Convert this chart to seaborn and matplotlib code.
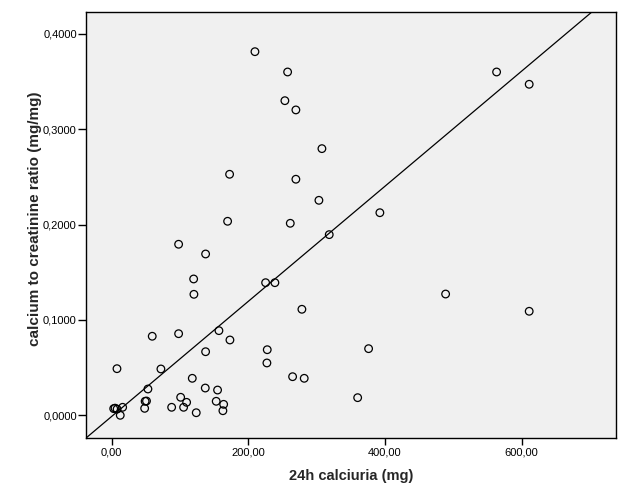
import matplotlib
matplotlib.use("Agg")
import matplotlib.pyplot as plt
import seaborn as sns
import pandas as pd
from matplotlib.ticker import FuncFormatter

calciuria = [209.7, 257.5, 253.5, 269.6, 307.7, 172.6, 269.6, 303.3, 169.7, 261.4,
             563.3, 611.0, 392.5, 318.4, 98.0, 137.5, 120.0, 120.4, 225.3, 238.9,
             278.4, 59.4, 98.0, 157.0, 173.1, 137.5, 227.7, 227.2, 7.8, 72.1,
             264.8, 281.8, 118.0, 53.1, 137.0, 155.0, 360.0, 101.0, 49.0, 51.0,
             109.7, 153.0, 163.9, 48.3, 87.8, 105.3, 123.8, 162.8, 16.1, 3.0,
             5.0, 8.0, 12.6, 488.7, 611.0, 376.0]
ratio = [0.3814, 0.3601, 0.3300, 0.3203, 0.2797, 0.2528, 0.2476, 0.2255, 0.2035, 0.2014,
         0.3601, 0.3472, 0.2125, 0.1895, 0.1794, 0.1692, 0.1430, 0.1269, 0.1391, 0.1391,
         0.1112, 0.0829, 0.0856, 0.0888, 0.0790, 0.0667, 0.0688, 0.0549, 0.0489, 0.0486,
         0.0405, 0.0388, 0.0388, 0.0276, 0.0286, 0.0265, 0.0185, 0.0189, 0.0147, 0.0150,
         0.0136, 0.0147, 0.0115, 0.0073, 0.0084, 0.0084, 0.0027, 0.0048, 0.0084, 0.0070,
         0.0075, 0.0065, 0.0000, 0.1272, 0.1091, 0.0699]

fit_intercept = -0.0012
fit_slope = 0.0006037

x_ticks = [0, 200, 400, 600]
y_ticks = [0.0, 0.1, 0.2, 0.3, 0.4]

df = pd.DataFrame({"calciuria": calciuria, "ratio": ratio})

sns.set_style("ticks")
plt.rcParams['font.family'] = ['Liberation Sans', 'DejaVu Sans']

fig = plt.figure(figsize=(6.29, 5.04), dpi=100)
ax = fig.add_axes([0.1362, 0.1304, 0.9793 - 0.1362, 0.9756 - 0.1304])
ax.set_facecolor("#F0F0F0")

sns.scatterplot(data=df, x="calciuria", y="ratio", ax=ax, marker="o",
                facecolor="none", edgecolor="black", linewidth=0.9, s=30, zorder=3)
ax.axline((0, fit_intercept), slope=fit_slope, color="black", linewidth=0.9, zorder=2)

ax.set_xlim(-38, 738)
ax.set_ylim(-0.0241, 0.4227)
ax.set_xticks(x_ticks)
ax.set_yticks(y_ticks)
ax.xaxis.set_major_formatter(FuncFormatter(lambda v, p: f"{v:.2f}".replace(".", ",")))
ax.yaxis.set_major_formatter(FuncFormatter(lambda v, p: f"{v:.4f}".replace(".", ",")))
ax.tick_params(axis="x", direction="out", length=5, width=1, pad=1.5, labelsize=8, colors="black")
ax.tick_params(axis="y", direction="out", length=5.8, width=1, pad=0.6, labelsize=8, colors="black")

for s in ax.spines.values():
    s.set_visible(True)
    s.set_color("black")
    s.set_linewidth(1)

ax.set_xlabel("24h calciuria (mg)", fontsize=10.5, fontweight="bold")
ax.set_ylabel("calcium to creatinine ratio (mg/mg)", fontsize=11, fontweight="bold")
ax.xaxis.set_label_coords(0.5, -0.072)
ax.yaxis.set_label_coords(-0.082, 0.516)

fig.savefig("out.png", dpi=100, facecolor="white")
